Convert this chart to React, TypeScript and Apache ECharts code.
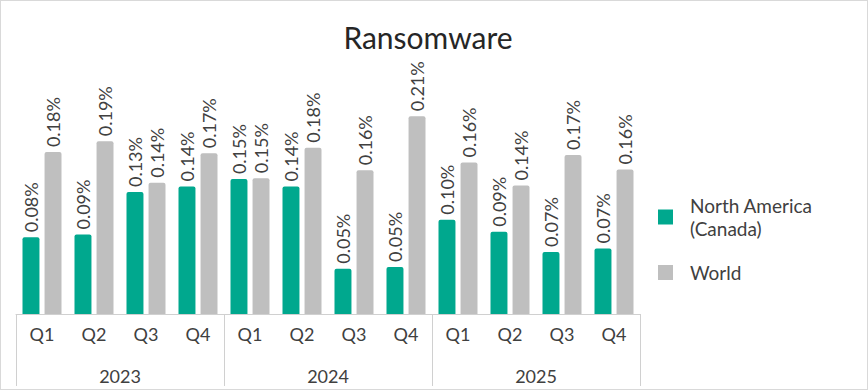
import React, { useEffect, useRef } from "react";
import * as echarts from "echarts";

const quarters = ["Q1", "Q2", "Q3", "Q4", "Q1", "Q2", "Q3", "Q4", "Q1", "Q2", "Q3", "Q4"];
const years = ["2023", "2024", "2025"];
const northAmerica = [0.083, 0.086, 0.132, 0.138, 0.146, 0.138, 0.049, 0.051, 0.102, 0.089, 0.067, 0.071];
const world = [0.1752, 0.187, 0.142, 0.174, 0.147, 0.18, 0.1556, 0.214, 0.164, 0.139, 0.172, 0.1565];
const seriesNames = ["North America\n(Canada)", "World"];

const FONT = "Lato";
const TEXT = "#404040";

export default function App() {
  const ref = useRef<HTMLDivElement>(null);
  useEffect(() => {
    const chart = echarts.init(ref.current!, null, { renderer: "svg" });
    const label = {
      show: true,
      position: "top" as const,
      rotate: 90,
      align: "left" as const,
      verticalAlign: "middle" as const,
      distance: 5,
      color: TEXT,
      fontSize: 18,
      fontFamily: FONT,
      formatter: (p: any) => p.value.toFixed(2) + "%",
    };
    chart.setOption({
      animation: false,
      backgroundColor: "#ffffff",
      title: {
        text: "Ransomware",
        left: 422,
        top: 16,
        textAlign: "center",
        textStyle: { fontFamily: FONT, fontSize: 30, fontWeight: "normal", color: "#262626" },
      },
      legend: {
        orient: "vertical",
        left: 652,
        top: 188,
        itemWidth: 15,
        itemHeight: 15,
        itemGap: 21,
        icon: "rect",
        textStyle: { fontFamily: FONT, fontSize: 19, color: TEXT, lineHeight: 23, padding: [0, 0, 0, 12] },
        data: seriesNames,
      },
      grid: { left: 15, right: 227, top: 82, bottom: 75 },
      xAxis: [
        {
          type: "category",
          data: quarters,
          position: "bottom",
          axisLine: { lineStyle: { color: "#D0D0D0", width: 1 } },
          axisTick: { alignWithLabel: true, length: 5, lineStyle: { color: "#D0D0D0" } },
          axisLabel: { margin: 11, fontSize: 18, fontFamily: FONT, color: TEXT, interval: 0 },
        },
        {
          type: "category",
          data: years,
          position: "bottom",
          axisLine: { show: false },
          axisTick: { show: true, length: 72, interval: 0, lineStyle: { color: "#D0D0D0" } },
          axisLabel: { margin: 53, fontSize: 18, fontFamily: FONT, color: TEXT, interval: 0 },
        },
      ],
      yAxis: { type: "value", min: 0, max: 0.25, show: false, splitLine: { show: false } },
      series: [
        {
          name: seriesNames[0],
          type: "bar",
          data: northAmerica,
          barCategoryGap: "25%",
          barGap: "30%",
          itemStyle: { color: "#00A88E", borderRadius: [2, 2, 0, 0] },
          label,
        },
        {
          name: seriesNames[1],
          type: "bar",
          data: world,
          barCategoryGap: "25%",
          barGap: "30%",
          itemStyle: { color: "#BFBFBF", borderRadius: [2, 2, 0, 0] },
          label,
        },
      ],
    });
    return () => chart.dispose();
  }, []);
  return (
    <div
      ref={ref}
      style={{
        position: "fixed",
        left: 0,
        top: 0,
        width: 868,
        height: 390,
        boxSizing: "border-box",
        border: "1px solid #D9D9D9",
      }}
    />
  );
}
